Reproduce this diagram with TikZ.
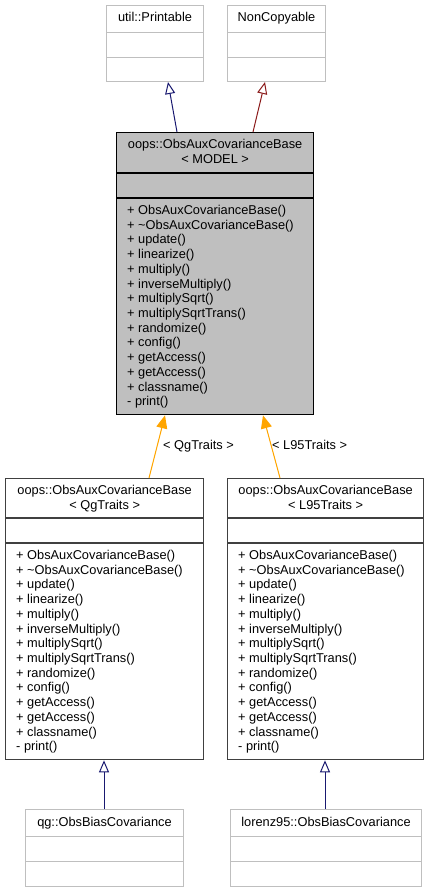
\documentclass[tikz,border=0pt]{standalone}
\usepackage{fontspec}
\setmainfont{Liberation Sans}
\usetikzlibrary{arrows.meta,calc}
\definecolor{edgeblue}{HTML}{191970}
\definecolor{edgered}{HTML}{8B1A1A}
\definecolor{edgeorange}{HTML}{FFA500}
\definecolor{boxgrey}{HTML}{BFBFBF}
\definecolor{boxdark}{HTML}{404040}

% #1 name, #2 box style, #3 x, #4 y, #5 width, #6 height, #7 first divider, #8 second divider
\newcommand\umlbox[8]{%
  \node[#2, minimum width=#5pt, minimum height=#6pt, anchor=north west] (#1) at (#3,#4) {};
  \draw[#2 rule] ($(#1.north west)+(0,#7)$) -- ($(#1.north east)+(0,#7)$);
  \draw[#2 rule] ($(#1.north west)+(0,#8)$) -- ($(#1.north east)+(0,#8)$);
}
% #1 class node, #2 offset of second divider below top, #3 list of members
\newcommand\umlmembers[3]{%
  \foreach \m [count=\i] in {#3} {
    \pgfmathsetmacro\dy{#2+16.5+(\i-1)*14.72}
    \node[member] (#1-m\i) at ($(#1.north west)+(11,\dy)$) {\m};
  }
}

\begin{document}
\begin{tikzpicture}[x=1pt,y=-1pt,
  txt/.style={font=\fontsize{12.8}{14.7}\selectfont, inner sep=0pt, text=black},
  member/.style={txt, anchor=base west},
  title/.style={txt, anchor=base},
  greybox/.style={draw=boxgrey, fill=white, line width=1pt, inner sep=0pt},
  greybox rule/.style={draw=boxgrey, line width=1pt},
  mainbox/.style={draw=black, fill=boxgrey, line width=1.3pt, inner sep=0pt},
  mainbox rule/.style={draw=black, line width=1.3pt},
  darkbox/.style={draw=boxdark, fill=white, line width=1.3pt, inner sep=0pt},
  darkbox rule/.style={draw=boxdark, line width=1.3pt},
  inherit/.style={line width=1pt, -{Triangle[open, length=12pt, width=10pt, line width=1pt]}},
  templ/.style={draw=edgeorange, line width=1pt, -{Triangle[length=13pt, width=11pt]}},
]
\useasboundingbox (0,0) rectangle (429,892);

% base classes
\umlbox{printable}{greybox}{106}{5}{97}{76}{27}{52}
\node[title] (printable-t) at ($(printable.north)+(0,16.5)$) {util::Printable};
\umlbox{noncopy}{greybox}{227}{5}{98}{76}{27}{52}
\node[title] (noncopy-t) at ($(noncopy.north)+(0,16.5)$) {NonCopyable};

% template class
\umlbox{main}{mainbox}{116}{132}{197}{282}{41}{66}
\node[title] (main-t1) at ($(main.north)+(0,16.5)$) {oops::ObsAuxCovarianceBase};
\node[title] (main-t2) at ($(main.north)+(0,31.5)$) {< MODEL >};
\umlmembers{main}{66}{+ ObsAuxCovarianceBase(),+ \textasciitilde ObsAuxCovarianceBase(),+ update(),+ linearize(),+ multiply(),+ inverseMultiply(),+ multiplySqrt(),+ multiplySqrtTrans(),+ randomize(),+ config(),+ getAccess(),+ getAccess(),+ classname(),- print()}

% instantiations
\umlbox{qg}{darkbox}{5}{478}{198}{281}{40}{65}
\node[title] (qg-t1) at ($(qg.north)+(0,16.5)$) {oops::ObsAuxCovarianceBase};
\node[title] (qg-t2) at ($(qg.north)+(0,31.5)$) {< QgTraits >};
\umlmembers{qg}{65}{+ ObsAuxCovarianceBase(),+ \textasciitilde ObsAuxCovarianceBase(),+ update(),+ linearize(),+ multiply(),+ inverseMultiply(),+ multiplySqrt(),+ multiplySqrtTrans(),+ randomize(),+ config(),+ getAccess(),+ getAccess(),+ classname(),- print()}

\umlbox{lnn}{darkbox}{227}{478}{196}{281}{40}{65}
\node[title] (lnn-t1) at ($(lnn.north)+(0,16.5)$) {oops::ObsAuxCovarianceBase};
\node[title] (lnn-t2) at ($(lnn.north)+(0,31.5)$) {< L95Traits >};
\umlmembers{lnn}{65}{+ ObsAuxCovarianceBase(),+ \textasciitilde ObsAuxCovarianceBase(),+ update(),+ linearize(),+ multiply(),+ inverseMultiply(),+ multiplySqrt(),+ multiplySqrtTrans(),+ randomize(),+ config(),+ getAccess(),+ getAccess(),+ classname(),- print()}

% derived classes
\umlbox{qgbias}{greybox}{25}{809}{158}{77}{27}{52}
\node[title] (qgbias-t) at ($(qgbias.north)+(0,17.5)$) {qg::ObsBiasCovariance};
\umlbox{lbias}{greybox}{230}{809}{191}{77}{27}{52}
\node[title] (lbias-t) at ($(lbias.north)+(0,17.5)$) {lorenz95::ObsBiasCovariance};

% inheritance edges
\draw[inherit, draw=edgeblue] ($(main.north west)+(61,0)$) -- ($(printable.south west)+(62,0)$);
\draw[inherit, draw=edgered] ($(main.north west)+(137,0)$) -- ($(noncopy.south west)+(38,0)$);
\draw[inherit, draw=edgeblue] ($(qgbias.north west)+(79,0)$) -- ($(qg.south west)+(99,0)$);
\draw[inherit, draw=edgeblue] ($(lbias.north west)+(95,0)$) -- ($(lnn.south west)+(98,0)$);

% template instantiation edges
\draw[templ, fill=edgeorange] ($(qg.north west)+(144,0)$) -- ($(main.south west)+(49,0)$);
\draw[templ, fill=edgeorange] ($(lnn.north west)+(53,0)$) -- ($(main.south west)+(147,0)$);
\node[txt, anchor=base west] (qg-lbl) at (163,449.5) {< QgTraits >};
\node[txt, anchor=base west] (lnn-lbl) at (272,449.5) {< L95Traits >};
\end{tikzpicture}
\end{document}
